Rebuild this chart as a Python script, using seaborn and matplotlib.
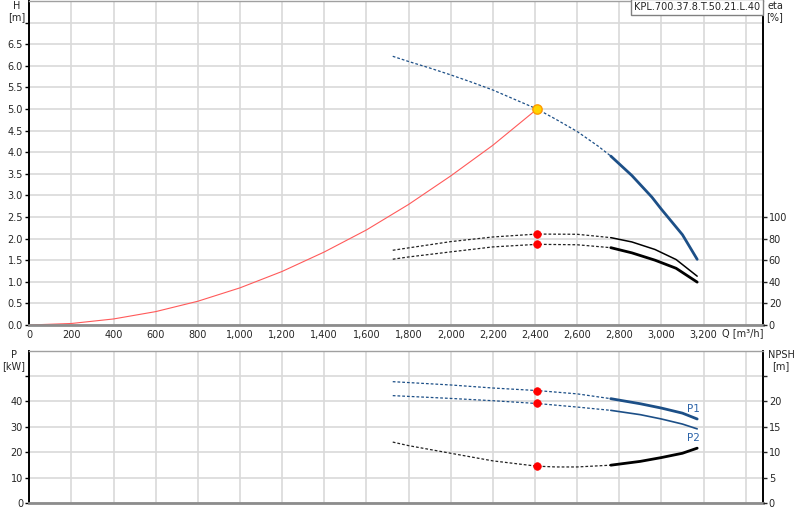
import matplotlib
matplotlib.use("Agg")
import matplotlib.pyplot as plt
import seaborn as sns
import numpy as np
from matplotlib.ticker import FuncFormatter

sns.set_style("white")
plt.rcParams['font.family'] = ['DejaVu Sans']

# ---------------- data ----------------
# system curve (H vs Q)
q_sys = [0, 200, 400, 600, 800, 1000, 1200, 1400, 1600, 1800, 2000, 2200, 2410]
h_sys = [0.0, 0.035, 0.14, 0.31, 0.55, 0.86, 1.24, 1.69, 2.20, 2.79, 3.45, 4.16, 5.0]

# pump QH curve: out-of-range (dotted) and operating (solid)
q_h_dot = [1725, 1800, 1900, 2000, 2100, 2200, 2300, 2410, 2500, 2600, 2700, 2760]
h_dot = [6.22, 6.10, 5.95, 5.79, 5.62, 5.44, 5.23, 5.0, 4.76, 4.48, 4.14, 3.91]
q_h_sol = [2760, 2860, 2955, 3000, 3100, 3170]
h_sol = [3.91, 3.46, 2.96, 2.68, 2.09, 1.52]

# efficiency curves [%]
q_eta_dot = [1725, 1800, 2000, 2200, 2410, 2600, 2760]
eta1_dot = [69.2, 71.4, 77.2, 81.5, 84.2, 84.0, 80.9]
eta2_dot = [60.9, 63.0, 67.7, 72.3, 74.7, 74.3, 71.6]
q_eta_sol = [2760, 2860, 2970, 3070, 3170]
eta1_sol = [80.9, 76.9, 69.9, 60.6, 45.2]
eta2_sol = [71.6, 66.8, 60.0, 52.5, 39.7]

# power curves [kW]
q_p_dot = [1725, 2000, 2200, 2410, 2600, 2760]
p1_dot = [47.8, 46.5, 45.3, 44.3, 43.0, 41.1]
p2_dot = [42.3, 41.2, 40.3, 39.2, 37.8, 36.5]
q_p_sol = [2760, 2900, 3000, 3100, 3170]
p1_sol = [41.1, 39.1, 37.4, 35.4, 33.1]
p2_sol = [36.5, 34.8, 33.1, 31.1, 29.2]

# NPSH [m]
q_n_dot = [1725, 1800, 2000, 2200, 2410, 2500, 2600, 2760]
npsh_dot = [12.0, 11.3, 9.8, 8.3, 7.25, 7.1, 7.1, 7.45]
q_n_sol = [2760, 2900, 3000, 3100, 3170]
npsh_sol = [7.45, 8.2, 8.95, 9.8, 10.8]

# duty point
q_duty = [2410]
h_duty = [5.0]
eta_duty = [84.2, 74.7]
p_duty = [44.3, 39.2]
npsh_duty = [7.25]

model = "KPL.700.37.8.T.50.21.L.40"

# ---------------- figure ----------------
W, H = 800, 520
fig = plt.figure(figsize=(8, 5.2), dpi=100)
fig.patch.set_facecolor("white")

L = 29.3 / W
Wd = (762.5 - 29.3) / W
ax1 = fig.add_axes([L, (H - 325) / H, Wd, 324 / H])
ax2 = fig.add_axes([L, (H - 503) / H, Wd, (503 - 350.7) / H])

blue = "#1c4f87"
dot_ls = (0, (2.2, 1.6))
grid_c = "#d9d9d9"
fs = 7

def style_axes(ax):
    ax.set_xlim(0, 3480)
    ax.set_xticks(list(range(0, 3600, 200)))
    ax.grid(True, color=grid_c, linewidth=1.2)
    ax.set_axisbelow(True)
    ax.spines['left'].set_color("black")
    ax.spines['left'].set_linewidth(1.4)
    ax.spines['right'].set_color("black")
    ax.spines['right'].set_linewidth(1.4)
    ax.spines['bottom'].set_color("#8c8c8c")
    ax.spines['bottom'].set_linewidth(2)
    ax.spines['top'].set_color("#a0a0a0")
    ax.spines['top'].set_linewidth(1)
    ax.tick_params(axis='y', length=3, width=1, pad=1.5, labelsize=fs, color="black")
    ax.tick_params(axis='x', length=0, pad=3.5, labelsize=fs)

style_axes(ax1)
style_axes(ax2)

def xfmt(v, pos):
    if v > 3300:
        return ""
    return f"{int(v):,}"

ax1.xaxis.set_major_formatter(FuncFormatter(xfmt))
ax2.set_xticklabels([])

# ---- top panel: H ----
ax1.set_ylim(0, 7.5)
ax1.set_yticks(np.arange(0, 7.01, 0.5))
ax1.yaxis.set_major_formatter(FuncFormatter(lambda v, p: "" if v > 6.6 else f"{v:.1f}"))

sns.lineplot(x=q_sys, y=h_sys, ax=ax1, color="#ff5a5a", linewidth=0.8, sort=False, estimator=None)
sns.lineplot(x=q_h_dot, y=h_dot, ax=ax1, color=blue, linewidth=0.9, linestyle=dot_ls, sort=False, estimator=None)
sns.lineplot(x=q_h_sol, y=h_sol, ax=ax1, color=blue, linewidth=2.0, sort=False, estimator=None)

ax1e = ax1.twinx()
ax1e.set_xlim(0, 3480)
ax1e.set_ylim(0, 300)
ax1e.set_yticks([0, 20, 40, 60, 80, 100])
ax1e.tick_params(axis='y', length=3, width=1, pad=1.5, labelsize=fs)
for s in ax1e.spines.values():
    s.set_visible(False)
sns.lineplot(x=q_eta_dot, y=eta1_dot, ax=ax1e, color="#222222", linewidth=0.9, linestyle=dot_ls, sort=False, estimator=None)
sns.lineplot(x=q_eta_dot, y=eta2_dot, ax=ax1e, color="#222222", linewidth=0.9, linestyle=dot_ls, sort=False, estimator=None)
sns.lineplot(x=q_eta_sol, y=eta1_sol, ax=ax1e, color="black", linewidth=1.1, sort=False, estimator=None)
sns.lineplot(x=q_eta_sol, y=eta2_sol, ax=ax1e, color="black", linewidth=2.0, sort=False, estimator=None)
sns.scatterplot(x=q_duty * 2, y=eta_duty, ax=ax1e, color="red", s=30, edgecolor="red", linewidth=0.5, zorder=5)
ax1e.set_ylabel("")
# duty point drawn on the H axis scale via the twin (eta = 40 * H)
sns.scatterplot(x=q_duty, y=[h * 40 for h in h_duty], ax=ax1e, color="#ffd400", s=45,
                edgecolor="#ff9a00", linewidth=1.0, zorder=6)

ax1.set_xlabel("")
ax1.set_ylabel("")

ax1.text(0.997, 0.996, model, transform=ax1.transAxes, ha="right", va="top", fontsize=fs,
         bbox=dict(boxstyle="square,pad=0.3", facecolor="white", edgecolor="#808080", linewidth=1), zorder=10)

# ---- bottom panel: P and NPSH ----
ax2.set_ylim(0, 60)
ax2.set_yticks([0, 10, 20, 30, 40, 50])
ax2.yaxis.set_major_formatter(FuncFormatter(lambda v, p: "" if v > 45 else f"{int(v)}"))
sns.lineplot(x=q_p_dot, y=p1_dot, ax=ax2, color=blue, linewidth=0.9, linestyle=dot_ls, sort=False, estimator=None)
sns.lineplot(x=q_p_dot, y=p2_dot, ax=ax2, color=blue, linewidth=0.9, linestyle=dot_ls, sort=False, estimator=None)
sns.lineplot(x=q_p_sol, y=p1_sol, ax=ax2, color=blue, linewidth=2.0, sort=False, estimator=None)
sns.lineplot(x=q_p_sol, y=p2_sol, ax=ax2, color=blue, linewidth=1.2, sort=False, estimator=None)
sns.scatterplot(x=q_duty * 2, y=p_duty, ax=ax2, color="red", s=30, edgecolor="red", linewidth=0.5, zorder=5)
ax2.text(q_p_sol[-1] - 20, p1_sol[-1] + 2.0, "P1", color="#2a62a8", fontsize=fs + 0.5, ha="center", va="bottom")
ax2.text(q_p_sol[-1] - 20, p2_sol[-1] - 1.5, "P2", color="#2a62a8", fontsize=fs + 0.5, ha="center", va="top")
ax2.set_xlabel("")
ax2.set_ylabel("")

ax2n = ax2.twinx()
ax2n.set_xlim(0, 3480)
ax2n.set_ylim(0, 30)
ax2n.set_yticks([0, 5, 10, 15, 20, 25])
ax2n.yaxis.set_major_formatter(FuncFormatter(lambda v, p: "" if v > 22 else f"{int(v)}"))
ax2n.tick_params(axis='y', length=3, width=1, pad=1.5, labelsize=fs)
for s in ax2n.spines.values():
    s.set_visible(False)
sns.lineplot(x=q_n_dot, y=npsh_dot, ax=ax2n, color="#222222", linewidth=0.9, linestyle=dot_ls, sort=False, estimator=None)
sns.lineplot(x=q_n_sol, y=npsh_sol, ax=ax2n, color="black", linewidth=2.0, sort=False, estimator=None)
sns.scatterplot(x=q_duty, y=npsh_duty, ax=ax2n, color="red", s=30, edgecolor="red", linewidth=0.5, zorder=5)
ax2n.set_ylabel("")

# ---- axis titles ----
def ftxt(x, y, s, ha="center", va="top"):
    fig.text(x / W, 1 - y / H, s, ha=ha, va=va, fontsize=fs, linespacing=1.15)

ftxt(17, 1, "H\n[m]")
ftxt(775, 1, "eta\n[%]")
ftxt(722, 333, "Q [m³/h]", ha="left", va="center")
ftxt(14, 350, "P\n[kW]")
ftxt(781, 350, "NPSH\n[m]")

fig.savefig("out.png", dpi=100, facecolor="white")
